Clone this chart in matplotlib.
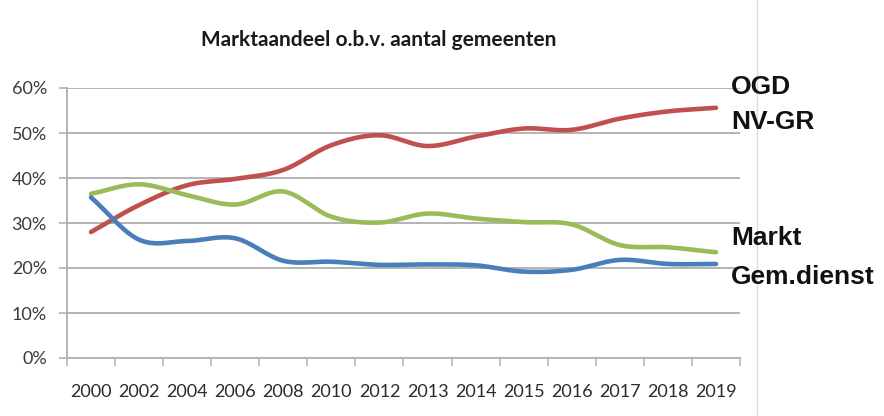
import numpy as np
import matplotlib
matplotlib.use("Agg")
import matplotlib.pyplot as plt
from matplotlib.ticker import FuncFormatter

years = ["2000", "2002", "2004", "2006", "2008", "2010", "2012", "2013",
         "2014", "2015", "2016", "2017", "2018", "2019"]
ogd = [28.0, 34.0, 38.4, 39.8, 41.8, 47.3, 49.5, 47.1, 49.2, 51.0, 50.7, 53.2, 54.8, 55.6]
markt = [36.5, 38.6, 36.2, 34.1, 37.0, 31.4, 30.1, 32.1, 31.0, 30.2, 29.7, 25.1, 24.6, 23.5]
gemdienst = [35.7, 26.3, 26.0, 26.6, 21.6, 21.4, 20.7, 20.8, 20.6, 19.2, 19.6, 21.8, 20.9, 20.9]

series = [ogd, markt, gemdienst]
colors = ["#c0504d", "#9bbb59", "#4a7ebb"]
yticks = [0, 10, 20, 30, 40, 50, 60]
title = "Marktaandeel o.b.v. aantal gemeenten"
right_labels = ["OGD", "NV-GR", "Markt", "Gem.dienst"]
right_label_y_px = [87, 122, 238, 277]

W, H = 884, 416
fig = plt.figure(figsize=(W / 100, H / 100), dpi=100)
ax = fig.add_axes([67 / W, 1 - 358 / H, (740 - 67) / W, (358 - 88) / H])

tickfont = ["Lato", "DejaVu Sans"]


def smooth(xs, ys, n=20):
    xs = np.asarray(xs, float)
    ys = np.asarray(ys, float)
    P = np.column_stack([xs, ys])
    P = np.vstack([2 * P[0] - P[1], P, 2 * P[-1] - P[-2]])
    out = []
    for i in range(1, len(P) - 2):
        p0, p1, p2, p3 = P[i - 1], P[i], P[i + 1], P[i + 2]
        t = np.linspace(0, 1, n, endpoint=False)[:, None]
        c = 0.5 * ((2 * p1) + (-p0 + p2) * t + (2 * p0 - 5 * p1 + 4 * p2 - p3) * t ** 2
                   + (-p0 + 3 * p1 - 3 * p2 + p3) * t ** 3)
        out.append(c)
    out.append(P[-2][None, :])
    out = np.vstack(out)
    return out[:, 0], out[:, 1]


x = np.arange(len(years))
for vals, col in zip(series, colors):
    sx, sy = smooth(x, vals)
    ax.plot(sx, sy, color=col, lw=3.3, solid_capstyle="round", zorder=3)

ax.set_xlim(-0.5, len(years) - 0.5)
ax.set_ylim(0, 60)
ax.set_yticks(yticks)
ax.yaxis.set_major_formatter(FuncFormatter(lambda v, p: f"{int(v)}%"))
ax.grid(axis="y", color="#b3b3b3", lw=1.4, zorder=0)
ax.set_xticks(x)
ax.set_xticklabels(years)
ax.set_xticks(np.arange(-0.5, len(years)), minor=True)
ax.tick_params(axis="x", which="major", length=0, pad=19, labelsize=13, colors="#2b2b2b")
ax.tick_params(axis="x", which="minor", length=5.5, width=1.2, color="#b3b3b3")
ax.tick_params(axis="y", length=5.5, width=1.2, color="#b3b3b3", pad=9, labelsize=13,
               labelcolor="#3a3a3a")
for lab in ax.get_xticklabels() + ax.get_yticklabels():
    lab.set_family(tickfont)

for side in ["top", "right"]:
    ax.spines[side].set_visible(False)
for side in ["left", "bottom"]:
    ax.spines[side].set_color("#b3b3b3")
    ax.spines[side].set_linewidth(1.4)

fig.text(379 / W, 1 - 40 / H, title, ha="center", va="center", fontsize=15,
         fontweight="bold", family=tickfont, color="#1a1a1a")

for lab, ypx in zip(right_labels, right_label_y_px):
    fig.text(731 / W, 1 - ypx / H, lab, ha="left", va="center", fontsize=19,
             fontweight="bold", family=["Liberation Sans", "DejaVu Sans"], color="#111111")

fig.add_artist(plt.Line2D([757 / W, 757 / W], [0, 1], color="#dcdcdc", lw=1))

fig.savefig("out.png", dpi=100)
